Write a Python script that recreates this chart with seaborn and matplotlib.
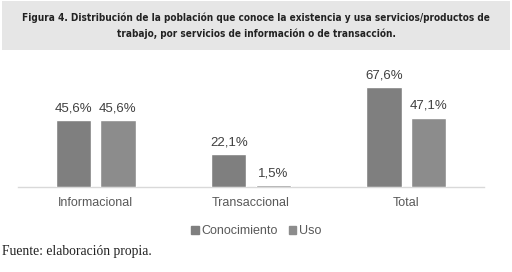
import matplotlib
matplotlib.use("Agg")
import matplotlib.pyplot as plt
import matplotlib.patches as mpatches
import seaborn as sns
import pandas as pd

categories = ["Informacional", "Transaccional", "Total"]
conocimiento = [45.6, 22.1, 67.6]
uso = [45.6, 1.5, 47.1]
series = ["Conocimiento", "Uso"]
colors = ["#7f7f7f", "#8c8c8c"]

title = ("Figura 4. Distribución de la población que conoce la existencia y usa servicios/productos de\n"
         "trabajo, por servicios de información o de transacción.")
source = "Fuente: elaboración propia."

df = pd.DataFrame({
    "cat": categories * 2,
    "serie": [series[0]] * 3 + [series[1]] * 3,
    "valor": conocimiento + uso,
})

sns.set_style("white")
plt.rcParams["font.family"] = ["Liberation Sans", "DejaVu Sans"]

fig = plt.figure(figsize=(5.12, 2.72), dpi=100)

# gray title box
fig.patches.append(mpatches.Rectangle((2 / 512, 1 - 50 / 272), 508 / 512, 49 / 272,
                                      transform=fig.transFigure, facecolor="#e6e6e6",
                                      edgecolor="none", zorder=0))
t = fig.text(0.5, 1 - 26 / 272, title, ha="center", va="center", fontsize=9.6,
             family=["DejaVu Sans"], fontstretch="condensed", fontweight="bold",
             color="#222222", linespacing=1.65)
# shrink the title until its widest line is about 466 px
r = fig.canvas.get_renderer()
w = t.get_window_extent(r).width
t.set_fontsize(9.6 * 466 / w)

ax = fig.add_axes([18 / 512, 1 - 187 / 272, 466 / 512, 118 / 272])
sns.barplot(data=df, x="cat", y="valor", hue="serie", palette=colors,
            width=0.574, gap=0.21, ax=ax, legend=False, saturation=1, zorder=3)
ax.set_ylim(0, 80)
ax.set_xlim(-0.5, 2.5)
ax.set_xlabel("")
ax.set_ylabel("")
ax.set_yticks([])
for s in ["top", "right", "left"]:
    ax.spines[s].set_visible(False)
ax.spines["bottom"].set_color("#d9d9d9")
ax.spines["bottom"].set_linewidth(1.0)
ax.spines["bottom"].set_zorder(1)
ax.tick_params(axis="x", length=0, pad=7, labelsize=9, labelcolor="#595959")

for cont in ax.containers:
    ax.bar_label(cont, labels=[f"{v:.1f}%".replace(".", ",") for v in cont.datavalues],
                 padding=4, fontsize=9.5, color="#404040")

handles = [mpatches.Patch(color=c, label=s) for c, s in zip(colors, series)]
fig.legend(handles=handles, loc="center", bbox_to_anchor=(0.5, 1 - 231 / 272), ncol=2,
           frameon=False, fontsize=9, handlelength=0.6, handleheight=0.6,
           handletextpad=0.2, columnspacing=0.9, labelcolor="#595959")

fig.text(2 / 512, 1 - 252 / 272, source, ha="left", va="center", fontsize=9.8,
         family=["Liberation Serif", "DejaVu Serif"], color="#222222")

fig.savefig("out.png", dpi=100)
